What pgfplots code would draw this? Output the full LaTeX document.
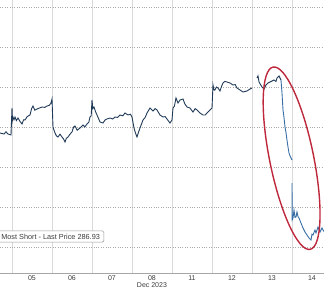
\documentclass[border=0pt]{standalone}
\usepackage{pgfplots}
\pgfplotsset{compat=1.18}
\usepackage{fontspec}
\setmainfont{Liberation Sans}
\definecolor{linec}{RGB}{32,58,88}
\definecolor{linec2}{RGB}{55,110,165}
\definecolor{ellc}{RGB}{190,40,60}
\definecolor{gridc}{RGB}{170,170,170}
\definecolor{txtc}{RGB}{60,60,60}
\begin{document}
\begin{tikzpicture}
\path[use as bounding box] (0,0) rectangle (324pt,290pt);
\begin{axis}[
  at={(0,17pt)}, anchor=south west,
  scale only axis, width=324pt, height=273pt,
  xmin=-0.3, xmax=7.8, ymin=281.75, ymax=315.875,
  axis line style={draw=none},
  major tick length=0pt, minor tick length=0pt,
  xtick={0.5,1.5,2.5,3.5,4.5,5.5,6.5,7.5},
  xticklabels={05,06,07,08,11,12,13,14},
  minor xtick={0,1,2,3,4,5,6,7},
  ytick={285,290,295,300,305,310,315},
  yticklabels={},
  ymajorgrids, xminorgrids,
  major grid style={gridc, dotted, line width=0.8pt},
  minor grid style={gray!30, line width=0.7pt},
  ticklabel style={font=\fontsize{7}{8}\selectfont, text=txtc},
  xticklabel style={inner sep=0pt, anchor=north, yshift=-2pt},
  xlabel={Dec 2023},
  xlabel style={at={(axis description cs:0.469,0)}, anchor=north, yshift=-9pt, inner sep=0pt, font=\fontsize{7}{8}\selectfont, text=txtc},
  unbounded coords=jump,
  clip=true,
]
\draw[gray!70, line width=0.6pt] (rel axis cs:0,0) -- (rel axis cs:1,0);
\addplot[linec, line width=0.9pt] coordinates {
(-0.3,299.25) (-0.2,299.125) (-0.15,299.4) (-0.1,299.125) (-0.025,299.0)
(0.0,302.375) (0.012,300.9) (0.025,301.25) (0.05,300.9) (0.075,301.25) (0.11,300.8) (0.15,301.125) (0.2,300.7) (0.25,300.375) (0.29,300.9) (0.325,300.875)
(0.38,301.3) (0.45,301.5) (0.49,302.3) (0.525,302.625) (0.57,302.1) (0.625,302.25) (0.7,302.4) (0.75,302.5) (0.82,302.45) (0.875,302.625) (0.93,302.7) (0.975,303.0)
(1.0,303.5) (1.025,300.0) (1.05,299.6) (1.075,299.25) (1.11,298.9) (1.15,298.75) (1.2,299.1) (1.25,298.75) (1.29,298.5) (1.325,298.125)
(1.36,298.6) (1.4,298.75) (1.45,299.1) (1.5,299.375) (1.54,300.0) (1.575,300.125) (1.63,299.6) (1.7,299.875) (1.775,300.25) (1.82,300.0) (1.875,300.375)
(1.92,300.6) (1.95,301.25) (1.98,301.4) (2.0,303.375) (2.02,302.3) (2.05,302.5) (2.09,301.9) (2.125,301.5) (2.16,301.1) (2.2,300.625) (2.275,300.5)
(2.33,300.9) (2.375,301.0) (2.45,301.125) (2.52,301.0) (2.575,301.25) (2.64,301.2) (2.7,301.5) (2.77,301.4) (2.825,301.75) (2.9,301.5)
(2.96,301.6) (3.0,301.25) (3.05,299.875) (3.09,299.2) (3.125,298.75) (3.16,299.3) (3.2,299.875) (3.275,300.875) (3.33,301.2) (3.375,301.75)
(3.45,302.375) (3.525,302.0) (3.58,302.3) (3.625,302.125) (3.7,301.5) (3.775,301.25) (3.83,301.3) (3.875,301.0)
(3.95,300.5) (4.0,300.875) (4.025,302.375) (4.06,302.6) (4.1,303.625) (4.15,303.0) (4.2,303.375)
(4.275,303.5) (4.32,302.9) (4.375,302.5) (4.45,302.375) (4.525,301.875) (4.58,302.3) (4.625,302.125) (4.7,301.75)
(4.775,301.5) (4.83,301.5) (4.875,301.75) (4.95,302.125) (5.0,302.375) (5.025,305.25) (5.05,304.6) (5.075,304.625)
(5.11,305.0) (5.15,304.875) (5.2,304.5) (5.24,305.1) (5.275,305.5) (5.32,305.7) (5.375,305.625) (5.45,305.5) (5.525,305.25)
(5.58,305.3) (5.625,304.875) (5.7,304.625) (5.775,304.375) (5.875,304.5) (5.95,304.75) (6.0,304.875)
(6.06,nan)
(6.125,306.125) (6.15,306.4) (6.175,305.625) (6.25,305.0) (6.3,304.75) (6.35,305.25) (6.4,305.5) (6.45,305.625)
(6.55,305.875) (6.6,305.7) (6.625,306.125) (6.675,306.375) (6.725,305.875)
};
\addplot[linec2, line width=0.9pt] coordinates {
(6.725,305.875) (6.75,304.25) (6.775,302.125) (6.8,301.2) (6.825,300.0) (6.85,299.3) (6.875,298.375) (6.9,297.5)
(6.925,296.75) (6.95,296.4) (6.975,296.125) (7.0,295.875)
(7.0,nan)
(7.0,293.0) (7.005,288.375) (7.025,288.6) (7.05,289.625) (7.075,288.7) (7.1,288.75) (7.125,289.375)
(7.15,288.8) (7.175,288.625) (7.225,288.0) (7.275,287.375) (7.325,286.875) (7.375,286.5) (7.425,286.125)
(7.475,285.875) (7.5,286.6) (7.525,286.5) (7.575,287.125) (7.6,286.75) (7.65,287.5) (7.7,286.875)
(7.75,287.375) (7.8,286.93)
};
\coordinate (ec) at (axis cs:6.99,296.1);
\end{axis}
\draw[ellc, line width=1.4pt, rotate around={101.5:(ec)}] (ec) ellipse [x radius=93pt, y radius=22pt];
\node[draw=gray!80, fill=white, rounded corners=1.5pt, line width=0.6pt, anchor=west,
  inner xsep=4pt, inner ysep=3pt, text=txtc, font=\fontsize{7.3}{8}\selectfont]
  at (-3pt,53.5pt) {Most Short - Last Price 286.93};
\end{tikzpicture}
\end{document}
